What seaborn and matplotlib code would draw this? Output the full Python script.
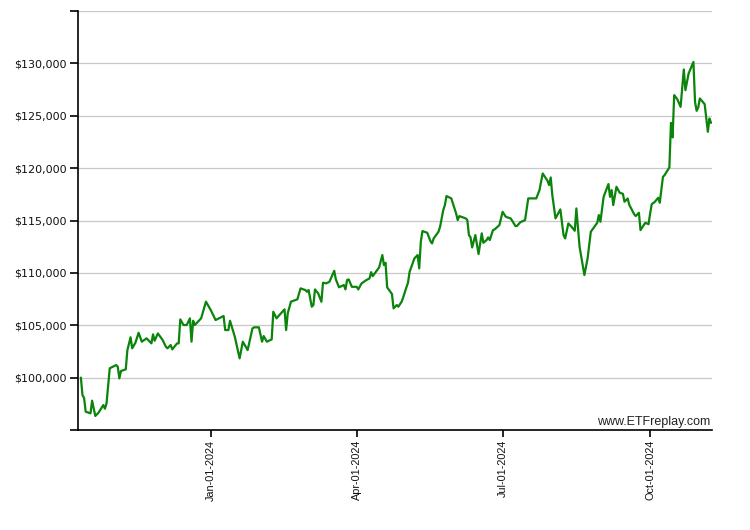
import matplotlib
matplotlib.use("Agg")
import matplotlib.pyplot as plt
import matplotlib.dates as mdates
from matplotlib.ticker import FixedLocator, FuncFormatter
import seaborn as sns
import pandas as pd

dates = [
    "2023-10-12", "2023-10-13", "2023-10-14", "2023-10-15", "2023-10-18", "2023-10-19",
    "2023-10-21", "2023-10-23", "2023-10-26", "2023-10-27", "2023-10-28", "2023-10-30",
    "2023-11-03", "2023-11-04", "2023-11-05", "2023-11-06", "2023-11-09", "2023-11-10",
    "2023-11-12", "2023-11-13", "2023-11-15", "2023-11-17", "2023-11-19", "2023-11-22",
    "2023-11-25", "2023-11-26", "2023-11-27", "2023-11-29", "2023-12-02", "2023-12-04",
    "2023-12-05", "2023-12-07", "2023-12-08", "2023-12-11", "2023-12-12", "2023-12-13",
    "2023-12-15", "2023-12-17", "2023-12-19", "2023-12-20", "2023-12-21", "2023-12-22",
    "2023-12-26", "2023-12-29", "2024-01-01", "2024-01-04", "2024-01-09", "2024-01-10",
    "2024-01-12", "2024-01-13", "2024-01-16", "2024-01-19", "2024-01-21", "2024-01-24",
    "2024-01-27", "2024-01-28", "2024-01-31", "2024-02-02", "2024-02-03", "2024-02-05",
    "2024-02-08", "2024-02-09", "2024-02-11", "2024-02-16", "2024-02-17", "2024-02-18",
    "2024-02-20", "2024-02-24", "2024-02-26", "2024-02-29", "2024-03-01", "2024-03-02",
    "2024-03-04", "2024-03-05", "2024-03-06", "2024-03-08", "2024-03-10", "2024-03-11",
    "2024-03-13", "2024-03-15", "2024-03-18", "2024-03-19", "2024-03-21", "2024-03-24",
    "2024-03-25", "2024-03-26", "2024-03-27", "2024-03-29", "2024-04-01", "2024-04-02",
    "2024-04-04", "2024-04-07", "2024-04-09", "2024-04-10", "2024-04-11", "2024-04-15",
    "2024-04-17", "2024-04-18", "2024-04-19", "2024-04-20", "2024-04-23", "2024-04-24",
    "2024-04-26", "2024-04-27", "2024-04-29", "2024-04-30", "2024-05-02", "2024-05-03",
    "2024-05-04", "2024-05-07", "2024-05-09", "2024-05-10", "2024-05-11", "2024-05-12",
    "2024-05-15", "2024-05-17", "2024-05-18", "2024-05-19", "2024-05-22", "2024-05-23",
    "2024-05-25", "2024-05-26", "2024-05-27", "2024-05-30", "2024-06-01", "2024-06-02",
    "2024-06-03", "2024-06-04", "2024-06-08", "2024-06-09", "2024-06-10", "2024-06-11",
    "2024-06-12", "2024-06-14", "2024-06-16", "2024-06-18", "2024-06-19", "2024-06-21",
    "2024-06-22", "2024-06-23", "2024-06-25", "2024-06-26", "2024-06-29", "2024-07-01",
    "2024-07-03", "2024-07-06", "2024-07-07", "2024-07-09", "2024-07-10", "2024-07-12",
    "2024-07-15", "2024-07-17", "2024-07-22", "2024-07-24", "2024-07-26", "2024-07-29",
    "2024-07-30", "2024-07-31", "2024-08-01", "2024-08-03", "2024-08-06", "2024-08-08",
    "2024-08-09", "2024-08-11", "2024-08-13", "2024-08-15", "2024-08-16", "2024-08-18",
    "2024-08-21", "2024-08-23", "2024-08-25", "2024-08-28", "2024-08-29", "2024-08-30",
    "2024-08-31", "2024-09-02", "2024-09-05", "2024-09-06", "2024-09-07", "2024-09-08",
    "2024-09-10", "2024-09-12", "2024-09-14", "2024-09-15", "2024-09-17", "2024-09-18",
    "2024-09-21", "2024-09-22", "2024-09-24", "2024-09-25", "2024-09-27", "2024-09-28",
    "2024-09-30", "2024-10-01", "2024-10-02", "2024-10-04", "2024-10-06", "2024-10-07",
    "2024-10-09", "2024-10-10", "2024-10-13", "2024-10-14", "2024-10-15", "2024-10-16",
    "2024-10-18", "2024-10-20", "2024-10-22", "2024-10-23", "2024-10-25", "2024-10-28",
    "2024-10-29", "2024-10-30", "2024-10-31", "2024-11-01", "2024-11-04", "2024-11-06",
    "2024-11-07", "2024-11-08",
]

values = [
    100000, 98340, 98050, 96750, 96590, 97800,
    96340, 96650, 97380, 97030, 97540, 100890,
    101200, 101040, 99930, 100630, 100790, 102630,
    103850, 102800, 103330, 104280, 103430, 103750,
    103270, 104130, 103520, 104220, 103590, 102950,
    102800, 103110, 102700, 103270, 103270, 105560,
    105020, 105020, 105660, 103430, 105430, 105020,
    105660, 107250, 106450, 105500, 105880, 104540,
    104540, 105430, 103900, 101840, 103430, 102630,
    104700, 104800, 104800, 103430, 103970, 103430,
    103650, 106290, 105660, 106520, 104540, 106130,
    107250, 107470, 108520, 108360, 108200, 108360,
    106770, 106930, 108420, 108040, 107240, 109060,
    109000, 109150, 110200, 109380, 108620, 108840,
    108420, 109310, 109380, 108670, 108670, 108420,
    108990, 109310, 109470, 110070, 109690, 110520,
    111700, 110740, 110960, 108620, 107980, 106610,
    106930, 106770, 107240, 107660, 108620, 109060,
    110100, 111380, 111700, 110430, 112970, 113990,
    113830, 113030, 112810, 113290, 113920, 114400,
    115990, 116470, 117330, 117110, 116150, 115680,
    115040, 115420, 115200, 115040, 113610, 113390,
    112430, 113610, 111800, 113770, 112870, 113130,
    113390, 113130, 114080, 114150, 114560, 115830,
    115350, 115200, 114970, 114470, 114480, 114830,
    115040, 117110, 117110, 117900, 119490, 118790,
    118380, 119110, 117420, 115200, 116060, 113610,
    113290, 114720, 114400, 114020, 116150, 112490,
    109790, 111380, 113920, 114560, 114780, 115520,
    114880, 117260, 118480, 117260, 117900, 116470,
    118220, 117650, 117550, 116790, 117100, 116500,
    115610, 115420, 115740, 114080, 114560, 114780,
    114650, 115670, 116560, 116790, 117170, 116690,
    119170, 119330, 120070, 124320, 122930, 126970,
    126560, 125850, 129420, 127440, 129030, 130140,
    126330, 125470, 125790, 126650, 126110, 123470,
    124740, 124320,
]

y_ticks = [95000, 100000, 105000, 110000, 115000, 120000, 125000, 130000, 135000]
x_ticks = ["2024-01-01", "2024-04-01", "2024-07-01", "2024-10-01"]

df = pd.DataFrame({"date": pd.to_datetime(dates), "value": values})

sns.set_theme(style="white")
plt.rcParams["font.family"] = ["DejaVu Sans"]

fig = plt.figure(figsize=(7.5, 5.3), dpi=100)
ax = fig.add_axes([78 / 750, 1 - 430 / 530, (712 - 78) / 750, (430 - 11) / 530])

sns.lineplot(data=df, x="date", y="value", ax=ax, color="#0a840a", linewidth=1.6)

ax.set_ylim(95000, 135000)
ax.set_xlim(pd.Timestamp("2023-10-10 05:00"), pd.Timestamp("2024-11-08 14:00"))

ax.yaxis.set_major_locator(FixedLocator(y_ticks))
ax.yaxis.set_major_formatter(FuncFormatter(
    lambda v, p: "" if v in (95000, 135000) else f"${v:,.0f}"))
ax.set_xticks(pd.to_datetime(x_ticks))
ax.xaxis.set_major_formatter(mdates.DateFormatter("%b-%d-%Y"))

for t in y_ticks[1:]:
    ax.axhline(t, color="#c8c8c8", linewidth=0.9, zorder=0)

for s in ["top", "right"]:
    ax.spines[s].set_visible(False)
for s in ["left", "bottom"]:
    ax.spines[s].set_color("black")
    ax.spines[s].set_linewidth(1.2)

ax.tick_params(axis="y", which="major", left=True, length=6, width=1.2,
               color="black", labelsize=8, labelcolor="#111111", pad=2)
ax.tick_params(axis="x", which="major", bottom=True, length=5, width=1.2,
               color="black", pad=2)
for lbl in ax.get_xticklabels():
    lbl.set_rotation(90)
    lbl.set_family("Liberation Sans")
    lbl.set_fontsize(7.8)
    lbl.set_color("#111111")

ax.set_xlabel("")
ax.set_ylabel("")

ax.text(0.997, 0.02, "www.ETFreplay.com", transform=ax.transAxes,
        ha="right", va="center", fontsize=9, family="Liberation Sans",
        color="#222222")

fig.savefig("out.png", dpi=100, facecolor="white")
